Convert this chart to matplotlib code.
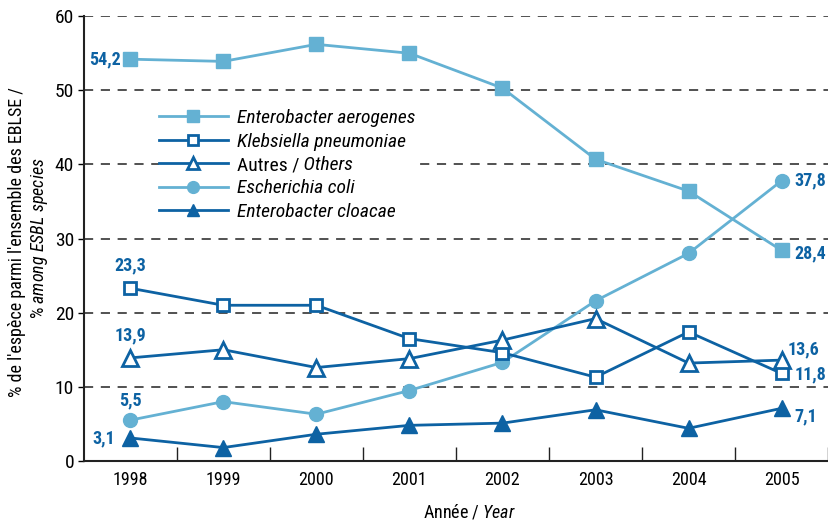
import matplotlib
matplotlib.use("Agg")
import matplotlib.pyplot as plt
from matplotlib import font_manager

# narrowest font we can find
names = set(f.name for f in font_manager.fontManager.ttflist)
fam = "DejaVu Sans"
for cand in ["Liberation Sans Narrow", "Roboto Condensed", "Liberation Sans"]:
    if cand in names:
        fam = cand
        break
plt.rcParams["font.family"] = [fam, "DejaVu Sans"]
plt.rcParams["mathtext.fontset"] = "custom"
plt.rcParams["mathtext.rm"] = fam
plt.rcParams["mathtext.it"] = fam + ":italic"

years = ["1998", "1999", "2000", "2001", "2002", "2003", "2004", "2005"]
aerogenes = [54.2, 53.9, 56.2, 55.0, 50.3, 40.7, 36.4, 28.4]
klebsiella = [23.3, 21.0, 21.0, 16.5, 14.6, 11.3, 17.4, 11.8]
autres = [13.9, 15.0, 12.6, 13.8, 16.3, 19.2, 13.2, 13.6]
ecoli = [5.5, 8.0, 6.3, 9.5, 13.3, 21.6, 28.0, 37.8]
cloacae = [3.1, 1.8, 3.6, 4.8, 5.1, 6.9, 4.4, 7.1]

light = "#64b1d3"
dark = "#0d62a3"

fig = plt.figure(figsize=(8.29, 5.22), dpi=100)
ax = fig.add_axes([0.101, 0.117, 0.898, 0.852])

x = list(range(len(years)))
lw = 2.0
ms = 10
ax.plot(x, aerogenes, color=light, lw=lw, marker="s", ms=ms, mfc=light, mec=light,
        label="Enterobacter aerogenes", zorder=3)
ax.plot(x, klebsiella, color=dark, lw=lw, marker="s", ms=ms - 1, mfc="white", mec=dark, mew=2,
        label="Klebsiella pneumoniae", zorder=4)
ax.plot(x, autres, color=dark, lw=lw, marker="^", ms=ms + 1, mfc="white", mec=dark, mew=2,
        label="Autres /", zorder=4)
ax.plot(x, ecoli, color=light, lw=lw, marker="o", ms=ms, mfc=light, mec=light,
        label="Escherichia coli", zorder=3)
ax.plot(x, cloacae, color=dark, lw=lw, marker="^", ms=ms + 1, mfc=dark, mec=dark,
        label="Enterobacter cloacae", zorder=4)

ax.set_xlim(-0.5, 7.5)
ax.set_ylim(0, 60)
ax.set_yticks(range(0, 61, 10))
ax.set_xticks(x)
ax.set_xticklabels(years)
ax.set_xticks([i + 0.5 for i in x], minor=True)
ax.tick_params(axis="x", which="major", length=0, labelsize=13, pad=7)
ax.tick_params(axis="x", which="minor", direction="in", length=10, width=1, color="#222222")
ax.tick_params(axis="y", length=4, width=1, labelsize=14, pad=3)

for v in range(10, 61, 10):
    ax.axhline(v, color="#222222", lw=1.1, ls=(0, (6, 5)), zorder=1)

ax.spines["top"].set_visible(False)
ax.spines["right"].set_visible(False)
for s in ["left", "bottom"]:
    ax.spines[s].set_linewidth(1.5)
    ax.spines[s].set_color("#222222")

# value labels
lab = dict(color=dark, fontsize=13, fontweight="bold")
ax.annotate("54,2", (0, aerogenes[0]), xytext=(-7, 0), textcoords="offset points", ha="right", va="center", **lab)
ax.annotate("23,3", (0, klebsiella[0]), xytext=(0, 10), textcoords="offset points", ha="center", va="bottom", **lab)
ax.annotate("13,9", (0, autres[0]), xytext=(0, 10), textcoords="offset points", ha="center", va="bottom", **lab)
ax.annotate("5,5", (0, ecoli[0]), xytext=(0, 8), textcoords="offset points", ha="center", va="bottom", **lab)
ax.annotate("3,1", (0, cloacae[0]), xytext=(-11, 0), textcoords="offset points", ha="right", va="center", **lab)
ax.annotate("37,8", (7, ecoli[7]), xytext=(9, 0), textcoords="offset points", ha="left", va="center", **lab)
ax.annotate("28,4", (7, aerogenes[7]), xytext=(9, -2), textcoords="offset points", ha="left", va="center", **lab)
ax.annotate("13,6", (7, autres[7]), xytext=(4, 8), textcoords="offset points", ha="left", va="center", **lab)
ax.annotate("11,8", (7, klebsiella[7]), xytext=(9, -1), textcoords="offset points", ha="left", va="center", **lab)
ax.annotate("7,1", (7, cloacae[7]), xytext=(9, -6), textcoords="offset points", ha="left", va="center", **lab)

leg = ax.legend(loc="upper left", bbox_to_anchor=(0.101, 0.791), frameon=True, fancybox=False,
                facecolor="white", edgecolor="none", framealpha=1,
                prop=dict(family=fam, style="italic", size=14), markerscale=0.85,
                handlelength=3.55, handletextpad=0.45, labelspacing=0.28, borderpad=0, borderaxespad=0)
t = leg.get_texts()[2]
t.set_fontstyle("normal")
# drawn after the legend so the text position is known
ax.annotate(" Others", xy=(1, 0), xycoords=t, va="bottom", ha="left", fontsize=14,
            fontstyle="italic", zorder=10)

fig.text(17 / 829, 1 - 242 / 522, "% de l'espèce parmi l'ensemble des EBLSE /", rotation=90,
         ha="center", va="center", fontsize=13)
fig.text(40 / 829, 1 - 238 / 522, r"% $\mathit{among\ ESBL\ species}$", rotation=90,
         ha="center", va="center", fontsize=13)
fig.text(470 / 829, 1 - 512 / 522, r"Année / $\mathit{Year}$", ha="center", va="center", fontsize=13)

plt.savefig("out.png", dpi=100)
